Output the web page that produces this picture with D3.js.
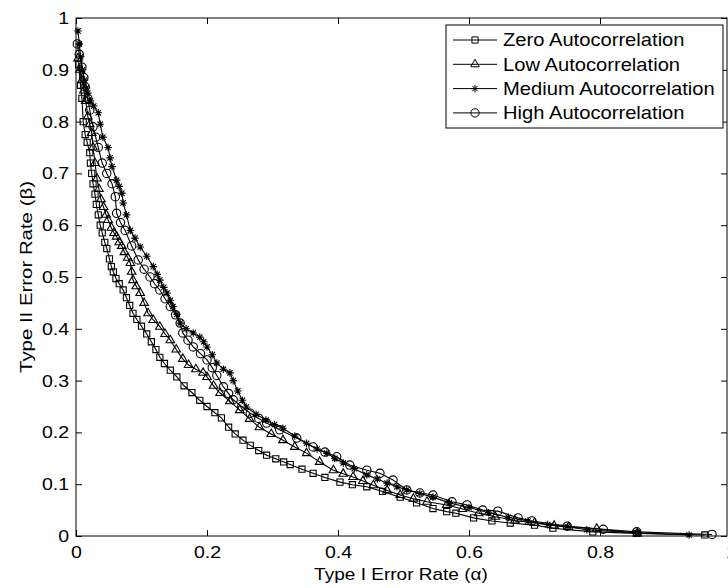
<!DOCTYPE html>
<html>
<head>
<meta charset="utf-8">
<script src="https://cdn.jsdelivr.net/npm/d3@7"></script>
<style>
  body { margin: 0; background: #fff; }
  text { font-family: "Liberation Sans", Arial, sans-serif; }
</style>
</head>
<body>
<svg id="chart" width="728" height="588"></svg>
<script>
// [alpha, beta] pairs
const zeroAuto = [[0.004,0.91],[0.007,0.87],[0.009,0.845],[0.011,0.80],[0.014,0.775],[0.017,0.76],[0.021,0.74],[0.022,0.72],[0.024,0.70],[0.026,0.68],[0.029,0.66],[0.031,0.64],[0.034,0.62],[0.037,0.60],[0.040,0.585],[0.044,0.567],[0.047,0.555],[0.051,0.535],[0.054,0.52],[0.057,0.51],[0.061,0.497],[0.066,0.487],[0.072,0.475],[0.077,0.46],[0.082,0.445],[0.087,0.43],[0.093,0.418],[0.100,0.405],[0.108,0.39],[0.115,0.375],[0.122,0.36],[0.128,0.345],[0.135,0.333],[0.144,0.32],[0.154,0.307],[0.165,0.29],[0.177,0.277],[0.189,0.262],[0.200,0.25],[0.212,0.238],[0.222,0.228],[0.233,0.21],[0.243,0.197],[0.255,0.185],[0.266,0.175],[0.279,0.165],[0.291,0.156],[0.305,0.149],[0.317,0.143],[0.327,0.138],[0.345,0.129],[0.362,0.121],[0.380,0.113],[0.403,0.104],[0.422,0.099],[0.444,0.095],[0.468,0.086],[0.495,0.075],[0.520,0.064],[0.545,0.053],[0.566,0.047],[0.580,0.044],[0.607,0.035],[0.635,0.029],[0.663,0.025],[0.700,0.021],[0.728,0.015],[0.789,0.008],[0.856,0.005],[0.960,0.002]];

const lowAuto = [[0.003,0.922],[0.006,0.90],[0.009,0.88],[0.012,0.86],[0.015,0.84],[0.018,0.81],[0.021,0.795],[0.024,0.778],[0.026,0.75],[0.029,0.72],[0.032,0.69],[0.035,0.67],[0.038,0.65],[0.042,0.635],[0.046,0.62],[0.049,0.61],[0.054,0.595],[0.058,0.585],[0.062,0.578],[0.066,0.567],[0.070,0.56],[0.074,0.548],[0.079,0.537],[0.083,0.527],[0.085,0.51],[0.087,0.494],[0.092,0.482],[0.098,0.469],[0.104,0.45],[0.110,0.43],[0.118,0.417],[0.128,0.404],[0.136,0.39],[0.144,0.378],[0.153,0.36],[0.163,0.342],[0.172,0.33],[0.183,0.322],[0.194,0.315],[0.200,0.307],[0.210,0.29],[0.220,0.276],[0.235,0.26],[0.250,0.243],[0.265,0.226],[0.280,0.21],[0.298,0.197],[0.316,0.185],[0.334,0.172],[0.352,0.16],[0.372,0.143],[0.393,0.127],[0.408,0.12],[0.423,0.114],[0.438,0.106],[0.454,0.098],[0.475,0.088],[0.495,0.079],[0.515,0.072],[0.536,0.066],[0.566,0.06],[0.590,0.052],[0.615,0.044],[0.640,0.037],[0.670,0.03],[0.700,0.025],[0.730,0.02],[0.752,0.017],[0.795,0.014],[0.857,0.005]];

const mediumAuto = [[0.003,0.975],[0.005,0.95],[0.007,0.925],[0.010,0.90],[0.013,0.88],[0.016,0.865],[0.018,0.855],[0.022,0.84],[0.027,0.83],[0.034,0.817],[0.037,0.795],[0.041,0.77],[0.049,0.75],[0.052,0.73],[0.055,0.713],[0.062,0.687],[0.066,0.675],[0.070,0.662],[0.072,0.643],[0.077,0.62],[0.083,0.59],[0.090,0.575],[0.098,0.558],[0.108,0.54],[0.118,0.52],[0.124,0.505],[0.128,0.494],[0.134,0.48],[0.139,0.469],[0.144,0.455],[0.148,0.443],[0.154,0.428],[0.159,0.411],[0.168,0.40],[0.179,0.392],[0.189,0.384],[0.195,0.375],[0.200,0.365],[0.208,0.35],[0.215,0.334],[0.225,0.322],[0.235,0.315],[0.240,0.30],[0.247,0.28],[0.254,0.262],[0.260,0.249],[0.275,0.235],[0.290,0.224],[0.303,0.215],[0.316,0.208],[0.334,0.193],[0.352,0.179],[0.368,0.168],[0.383,0.16],[0.395,0.15],[0.408,0.141],[0.425,0.13],[0.444,0.118],[0.460,0.11],[0.475,0.102],[0.490,0.095],[0.505,0.089],[0.525,0.082],[0.545,0.075],[0.570,0.064],[0.600,0.055],[0.630,0.045],[0.660,0.036],[0.690,0.029],[0.720,0.022],[0.750,0.018],[0.780,0.012],[0.857,0.006],[0.936,0.002]];

const highAuto = [[0.002,0.95],[0.005,0.93],[0.009,0.905],[0.012,0.885],[0.014,0.867],[0.018,0.845],[0.021,0.822],[0.026,0.79],[0.030,0.77],[0.034,0.75],[0.040,0.72],[0.047,0.70],[0.055,0.68],[0.060,0.655],[0.062,0.623],[0.068,0.605],[0.075,0.59],[0.085,0.56],[0.095,0.533],[0.104,0.515],[0.113,0.50],[0.120,0.487],[0.128,0.475],[0.136,0.458],[0.144,0.443],[0.152,0.427],[0.159,0.411],[0.163,0.392],[0.171,0.378],[0.179,0.365],[0.190,0.352],[0.200,0.34],[0.208,0.325],[0.215,0.31],[0.225,0.288],[0.233,0.275],[0.240,0.263],[0.253,0.25],[0.266,0.237],[0.279,0.227],[0.291,0.218],[0.311,0.205],[0.337,0.189],[0.362,0.172],[0.380,0.162],[0.398,0.153],[0.418,0.137],[0.444,0.127],[0.464,0.121],[0.484,0.108],[0.505,0.089],[0.525,0.083],[0.545,0.079],[0.574,0.066],[0.597,0.06],[0.621,0.05],[0.644,0.048],[0.675,0.035],[0.696,0.029],[0.750,0.019],[0.805,0.013],[0.856,0.008],[0.971,0.003]];

const seriesNames = ["Zero Autocorrelation", "Low Autocorrelation", "Medium Autocorrelation", "High Autocorrelation"];
const xTicks = [0, 0.2, 0.4, 0.6, 0.8, 1];
const xTickLabels = ["0", "0.2", "0.4", "0.6", "0.8", "1"];
const yTicks = [0, 0.1, 0.2, 0.3, 0.4, 0.5, 0.6, 0.7, 0.8, 0.9, 1];
const yTickLabels = ["0", "0.1", "0.2", "0.3", "0.4", "0.5", "0.6", "0.7", "0.8", "0.9", "1"];

const svg = d3.select("#chart");
const plotLeft = 76, plotTop = 18, plotRight = 727, plotBottom = 536;

const x = d3.scaleLinear().domain([0, 1]).range([plotLeft, 731]);
const y = d3.scaleLinear().domain([0, 1]).range([plotBottom, plotTop]);

// the reference text is a bit wider than Arial, so stretch it sideways
const stretch = 1.15;

// marker shapes
const sym = d3.symbol();
function markerPath(kind) {
  if (kind == "square") return sym.type(d3.symbolSquare).size(38)();
  if (kind == "triangle") return sym.type(d3.symbolTriangle).size(32)();
  if (kind == "circle") return sym.type(d3.symbolCircle).size(55)();
  // asterisk: plus + cross
  let r = 3.8, d = 2.7;
  return `M${-r},0L${r},0M0,${-r}L0,${r}M${-d},${-d}L${d},${d}M${-d},${d}L${d},${-d}`;
}

const series = [
  { name: seriesNames[0], values: zeroAuto, marker: "square" },
  { name: seriesNames[1], values: lowAuto, marker: "triangle" },
  { name: seriesNames[2], values: mediumAuto, marker: "star" },
  { name: seriesNames[3], values: highAuto, marker: "circle" }
];

// axes, ticks pointing in
const fontSize = "17px";
const gx = svg.append("g").attr("transform", `translate(0,${plotBottom})`)
  .call(d3.axisBottom(x).tickValues(xTicks).tickSize(-6).tickPadding(10)
    .tickFormat((d, i) => xTickLabels[i]));
const gxTop = svg.append("g").attr("transform", `translate(0,${plotTop})`)
  .call(d3.axisTop(x).tickValues(xTicks).tickSize(-6).tickFormat(""));
const gy = svg.append("g").attr("transform", `translate(${plotLeft},0)`)
  .call(d3.axisLeft(y).tickValues(yTicks).tickSize(-6).tickPadding(6)
    .tickFormat((d, i) => yTickLabels[i]));
const gyRight = svg.append("g").attr("transform", `translate(${plotRight},0)`)
  .call(d3.axisRight(y).tickValues(yTicks).tickSize(-6).tickFormat(""));

for (let g of [gx, gxTop, gy, gyRight]) {
  g.select(".domain").remove();
  g.selectAll("line").attr("stroke", "#000");
  g.selectAll("text").attr("fill", "#000").style("font-size", fontSize)
    .attr("transform", `scale(${stretch},1)`);
}

svg.append("rect")
  .attr("x", plotLeft).attr("y", plotTop)
  .attr("width", plotRight - plotLeft).attr("height", plotBottom - plotTop)
  .attr("fill", "none").attr("stroke", "#000").attr("stroke-width", 1);

// curves
const line = d3.line().x(d => x(d[0])).y(d => y(d[1]));

for (let s of series) {
  let g = svg.append("g");
  g.append("path")
    .attr("d", line(s.values))
    .attr("fill", "none").attr("stroke", "#000").attr("stroke-width", 1.1);
  g.selectAll("path.mk").data(s.values).enter().append("path")
    .attr("class", "mk")
    .attr("transform", d => `translate(${x(d[0])},${y(d[1])})`)
    .attr("d", markerPath(s.marker))
    .attr("fill", "none").attr("stroke", "#000").attr("stroke-width", 1.1);
}

// axis titles
svg.append("text")
  .attr("transform", `translate(401,580) scale(1.12,1)`)
  .attr("text-anchor", "middle")
  .style("font-size", fontSize)
  .text("Type I Error Rate (\u03b1)");

svg.append("text")
  .attr("transform", "translate(32,277) rotate(-90) scale(1.2,1)")
  .attr("text-anchor", "middle")
  .style("font-size", fontSize)
  .text("Type II Error Rate (\u03b2)");

// legend
const legend = svg.append("g");
legend.append("rect")
  .attr("x", 446).attr("y", 25).attr("width", 277).attr("height", 103)
  .attr("fill", "#fff").attr("stroke", "#000").attr("stroke-width", 1);

series.forEach((s, i) => {
  let ly = 40 + i * 24.3;
  legend.append("line")
    .attr("x1", 453).attr("x2", 497).attr("y1", ly).attr("y2", ly)
    .attr("stroke", "#000").attr("stroke-width", 1);
  legend.append("path")
    .attr("transform", `translate(475,${ly})`)
    .attr("d", markerPath(s.marker))
    .attr("fill", "none").attr("stroke", "#000").attr("stroke-width", 1);
  legend.append("text")
    .attr("transform", `translate(503,${ly}) scale(1.12,1)`)
    .attr("dy", "0.35em")
    .style("font-size", "18px")
    .text(s.name);
});
</script>
</body>
</html>
